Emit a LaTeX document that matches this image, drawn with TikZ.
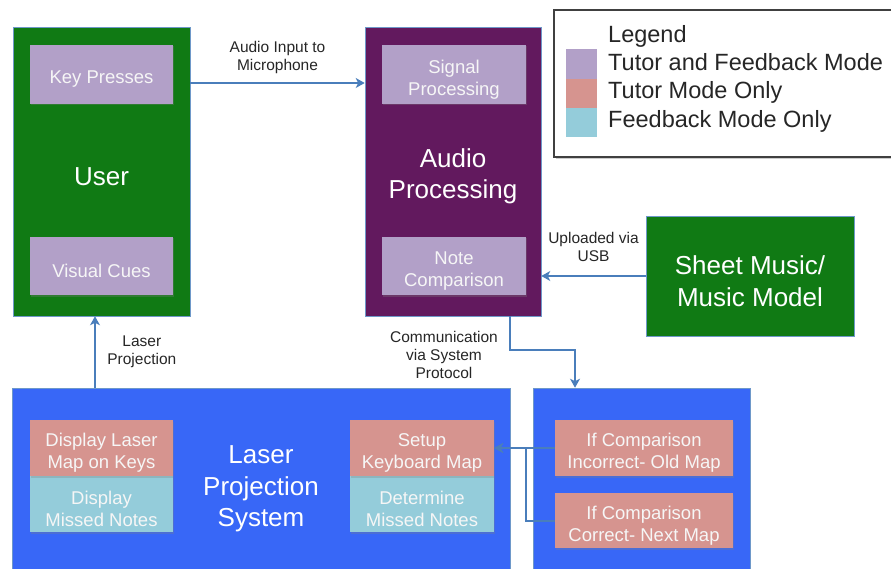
\documentclass[tikz,border=0pt]{standalone}
\usepackage{fontspec}
\setmainfont{Liberation Sans}
\usetikzlibrary{calc}
\usetikzlibrary{arrows.meta}
\usetikzlibrary{shadows}

\definecolor{usergreen}{RGB}{16,122,20}
\definecolor{audiopurple}{RGB}{98,25,94}
\definecolor{lavender}{RGB}{178,160,200}
\definecolor{salmon}{RGB}{214,148,143}
\definecolor{paleblue}{RGB}{148,204,218}
\definecolor{laserblue}{RGB}{56,103,247}
\definecolor{arrowblue}{RGB}{74,126,187}

\begin{document}
\begin{tikzpicture}[x=1pt, y=-1pt,
  blocktxt/.style={text=white, align=center, yshift=-5pt, font=\fontsize{26}{31.5}\selectfont},
  parttxt/.style={text=white!93!gray, align=center, yshift=-5pt, font=\fontsize{18.5}{22}\selectfont},
  block/.style={rectangle, draw=arrowblue!80, line width=0.6pt, label={[blocktxt]center:#1}},
  part/.style={rectangle, inner sep=0pt, label={[parttxt]center:#1}, drop shadow={shadow xshift=1pt, shadow yshift=-1.5pt, opacity=0.3}},
  lbl/.style={align=center, font=\fontsize{15.5}{18}\selectfont, text=black!85},
  legtxt/.style={anchor=base west, inner sep=0pt, font=\fontsize{23.5}{28}\selectfont, text=black!85},
  swatch/.style={rectangle, inner sep=0pt, minimum width=31pt, minimum height=29.5pt},
  flow/.style={->, >={Stealth[length=9pt, width=10pt, inset=2.5pt]}, line width=2pt, arrowblue}]
  \useasboundingbox (0,0) rectangle (891,569);
  \clip (0,0) rectangle (891,569);

  \node [block={User}, fill=usergreen, minimum width=177pt, minimum height=289pt] (user) at (101.5,171.5) {};
  \node [block={Audio\\Processing}, fill=audiopurple, minimum width=176pt, minimum height=289pt] (audio) at (453,171.5) {};
  \node [block={Sheet Music/\\Music Model}, fill=usergreen, minimum width=208pt, minimum height=120pt] (sheet) at (750,276) {};
  \node [block={Laser\\Projection\\System}, fill=laserblue, minimum width=498pt, minimum height=192pt] (laser) at (261,484) {};
  \node [block={}, fill=laserblue, minimum width=217pt, minimum height=192pt] (mapbox) at (641.5,484) {};

  \node [part={Key Presses}, fill=lavender, minimum width=143pt, minimum height=59pt] (keys) at (101.5,74.5) {};
  \node [part={Visual Cues}, fill=lavender, minimum width=143pt, minimum height=58pt] (cues) at (101.5,266) {};
  \node [part={Signal\\Processing}, fill=lavender, minimum width=144pt, minimum height=59pt] (signal) at (454,74.5) {};
  \node [part={Note\\Comparison}, fill=lavender, minimum width=144pt, minimum height=58pt] (notecmp) at (454,266) {};

  \node [part={Display\\Missed Notes}, fill=paleblue, minimum width=143pt, minimum height=56pt] (dispmiss) at (101.5,504) {};
  \node [part={Display Laser\\Map on Keys}, fill=salmon, minimum width=143pt, minimum height=56pt] (dispmap) at (101.5,448) {};
  \node [part={Determine\\Missed Notes}, fill=paleblue, minimum width=144pt, minimum height=56pt] (determine) at (422,504) {};
  \node [part={Setup\\Keyboard Map}, fill=salmon, minimum width=144pt, minimum height=56pt] (setup) at (422,448) {};
  \node [part={If Comparison\\Incorrect- Old Map}, fill=salmon, minimum width=178pt, minimum height=56pt] (incorrect) at (644,448) {};
  \node [part={If Comparison\\Correct- Next Map}, fill=salmon, minimum width=178pt, minimum height=55pt] (correct) at (644,520.5) {};

  \node [rectangle, draw=black!75, line width=1.3pt, fill=white, minimum width=346pt, minimum height=147pt, drop shadow={shadow xshift=2pt, shadow yshift=-2pt, opacity=0.4}] (legend) at (727,83.5) {};
  \node [swatch, fill=lavender] (swboth) at (581.5,64) {};
  \node [swatch, fill=salmon] (swtutor) at (581.5,93.5) {};
  \node [swatch, fill=paleblue] (swfeed) at (581.5,122.5) {};
  \node [legtxt] (legtitle) at (608,43) {Legend};
  \node [legtxt] (legboth) at (608,71) {Tutor and Feedback Mode};
  \node [legtxt] (legtutor) at (608,99) {Tutor Mode Only};
  \node [legtxt] (legfeed) at (608,128) {Feedback Mode Only};

  \draw [flow] (user.east |- 0,83) -- (audio.west |- 0,83) node [lbl, midway, above=5pt] {Audio Input to\\Microphone};
  \draw [flow] (sheet.west) -- (sheet.west -| audio.east) node [lbl, midway, above=10pt] {Uploaded via\\USB};
  \draw [flow] (laser.north -| 95,0) -- (user.south -| 95,0) node [lbl, midway, right=8pt] {Laser\\Projection};
  \draw [flow] (audio.south -| 510,0) -- ++(0,34) -| (mapbox.north -| 575,0);
  \node [lbl] (commlbl) at (444,355) {Communication\\via System\\Protocol};
  \draw [flow] (incorrect.west) -- (setup.east);
  \draw [flow] (correct.west) -- ++(-29,0) |- (setup.east);
\end{tikzpicture}
\end{document}
